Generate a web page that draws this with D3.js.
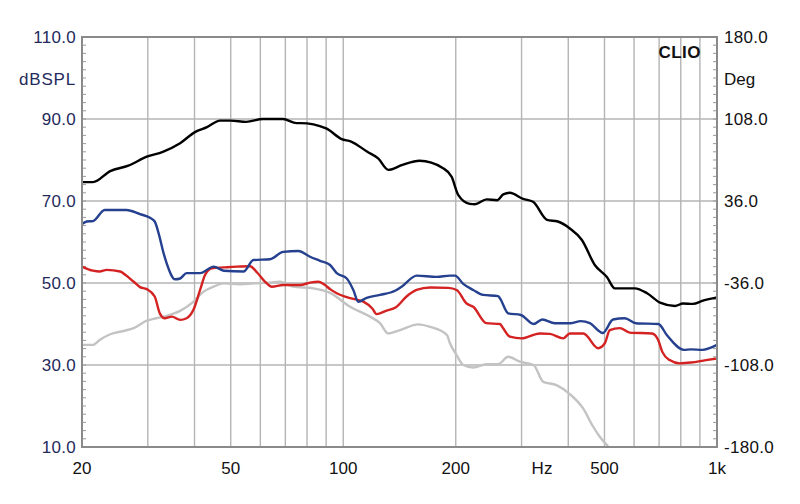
<!DOCTYPE html>
<html><head><meta charset="utf-8">
<script src="https://cdn.jsdelivr.net/npm/d3@7"></script>
<style>
html,body{margin:0;padding:0;background:#fff;}
svg{display:block;}
</style></head>
<body>
<svg id="chart" width="800" height="504"></svg>
<script>
// ---- Data (frequency Hz, level dBSPL) ----
const blackFreq = [20,21.4,23.8,26.6,29.8,32.9,36.6,40.1,43.2,46.8,50,55,61,69,75,77,90,99,105,116,124,132,144,160,185,195,203,218,225,242,258,268,279,303,322,351,375,404,435,471,508,533,603,650,704,772,811,862,917,1000];
const blackDb   = [74.6,74.6,77.3,78.6,80.8,82.0,84.1,86.8,88.0,89.6,89.6,89.3,90.0,90.0,89.0,89.0,87.7,85.1,84.5,82.0,80.4,77.6,78.8,79.8,78.0,75.9,71.5,69.3,69.2,70.4,70.2,71.6,72.0,70.5,69.8,65.4,65.0,63.3,60.5,54.4,51.4,48.7,48.7,47.5,45.2,44.4,45.0,44.9,45.7,46.5];

const blueFreq = [20,20.6,21.4,23.0,26.3,28.6,30.4,31.3,32.3,32.9,33.7,35.5,36.6,38.1,41.4,45.0,47.9,54.1,57.5,63.7,69.1,75.8,81.5,86.7,92.2,96.1,102.2,106.4,109.7,115.5,125.4,137.6,143.3,157.3,177.8,193,199,209.4,222.7,236.6,259.6,262.5,276.3,298.8,323,341,368,406.5,432,456.8,495,527,566.6,607,697,734,816,852,914,1000];
const blueDb   = [64.4,65.0,65.1,67.8,67.8,66.8,65.9,65.0,61.0,58.0,54.8,50.9,51.1,52.4,52.4,54.0,53.0,52.8,55.6,55.8,57.6,57.8,56.4,55.4,54.4,52.4,51.1,48.3,45.4,46.4,47.1,48.1,49.1,51.8,51.5,51.8,51.8,49.8,48.3,47.1,46.8,46.3,42.6,42.2,40.0,41.1,40.2,40.2,40.7,40.2,37.8,41.1,41.4,40.2,40.0,37.3,33.7,33.8,33.7,34.9];

const redFreq = [20,21.4,22.3,23.3,25.3,26.1,27.5,28.6,29.8,31.3,32.3,33.3,34.8,36.6,38.1,39.7,41.4,42.7,44.5,47.9,51.9,56.3,58.9,61.8,64.4,69.1,76.6,81.5,85.8,89.4,92.2,96.1,104.3,113.5,119.6,122.8,130.1,138.4,147.7,157.1,170.7,191,201.1,213.9,222.7,241.5,262.5,267.6,279.2,300,335.8,357,387.8,403.9,439,481,501,516.6,549.4,584,670,696,714,747,795,852,934,1000];
const redDb   = [54.0,53.0,52.8,53.2,52.8,52.0,50.3,49.0,48.5,46.7,42.6,41.4,41.8,41.0,41.4,43.4,48.3,52.0,53.6,53.8,54.0,54.1,52.5,50.3,49.1,49.5,49.5,50.1,50.3,49.5,48.5,47.5,46.3,45.4,43.8,42.4,43.2,44.1,46.7,48.3,48.9,48.8,48.3,45.0,44.2,40.2,40.0,39.0,36.9,36.5,37.7,37.6,36.5,37.7,37.7,34.1,35.3,38.5,39.0,37.9,37.7,36.1,33.2,31.2,30.4,30.6,31.2,31.6];

const grayFreq = [20,21.4,22.3,23.8,25.8,27.5,29.8,31.6,33.7,36.6,39.7,42.3,45.0,47.9,52.9,57.5,63.7,67.7,73.4,83.2,92.2,104.3,117.9,125.4,131.9,141.9,158.8,170.7,189.5,193,201.1,209.4,222.7,241.5,259.6,276.3,296.9,323,343,372,403.9,438.4,466,485.8,511];
const grayDb   = [34.9,34.9,36.1,37.5,38.3,39.0,40.8,41.4,42.0,43.2,45.4,47.9,49.1,49.9,49.7,49.9,50.1,50.3,49.1,48.7,47.6,44.2,41.8,40.2,37.7,38.5,39.9,39.3,37.3,35.3,32.4,30.0,29.4,30.2,30.2,32.0,30.8,30.0,25.9,25.1,22.9,19.4,15.0,12.5,10.2];

const xGridFreqs = [30,40,50,60,70,80,90,100,200,300,400,500,600,700,800,900];
const xTickValues = [20,50,100,200,500,1000];
const xTickLabels = ["20","50","100","200","500","1k"];
const yTickValues = [10,30,50,70,90,110];
const yTickLabels = ["10.0","30.0","50.0","70.0","90.0","110.0"];
const rTickLabels = ["-180.0","-108.0","-36.0","36.0","108.0","180.0"];

// ---- Layout ----
const L = 82, R = 717, T = 37, B = 447;
const svg = d3.select("#chart");
const x = d3.scaleLog().domain([20,1000]).range([L,R]);
const y = d3.scaleLinear().domain([10,110]).range([B,T]);
const font = "'Liberation Sans', Arial, sans-serif";
const navy = "#252a5c";

svg.append("rect").attr("width",800).attr("height",504).attr("fill","#fff");

// gridlines
const g = svg.append("g");
g.selectAll(".vg").data(xGridFreqs).join("line")
  .attr("x1",d=>x(d)).attr("x2",d=>x(d)).attr("y1",T).attr("y2",B)
  .attr("stroke","#b4b4b4").attr("stroke-width",1.4);
g.selectAll(".hg").data([30,50,70,90]).join("line")
  .attr("x1",L).attr("x2",R).attr("y1",d=>y(d)).attr("y2",d=>y(d))
  .attr("stroke","#b4b4b4").attr("stroke-width",1.4);

// minor ticks inside left and right
const minor = d3.range(10,110.01,2);
g.selectAll(".lt").data(minor).join("line")
  .attr("x1",L).attr("x2",L+4).attr("y1",d=>y(d)).attr("y2",d=>y(d))
  .attr("stroke","#999").attr("stroke-width",1);
g.selectAll(".rt").data(minor).join("line")
  .attr("x1",R-4).attr("x2",R).attr("y1",d=>y(d)).attr("y2",d=>y(d))
  .attr("stroke","#999").attr("stroke-width",1);

// curves
svg.append("clipPath").attr("id","clip").append("rect")
  .attr("x",L).attr("y",T).attr("width",R-L).attr("height",B-T);
const line = d3.line().x(d=>x(d[0])).y(d=>y(d[1])).curve(d3.curveMonotoneX);
const series = [
  {f:grayFreq, v:grayDb, c:"#c3c3c3"},
  {f:redFreq, v:redDb, c:"#d42222"},
  {f:blueFreq, v:blueDb, c:"#25408f"},
  {f:blackFreq, v:blackDb, c:"#000000"}
];
const cg = svg.append("g").attr("clip-path","url(#clip)");
series.forEach(s=>{
  cg.append("path").datum(s.f.map((f,i)=>[f,s.v[i]]))
    .attr("d",line).attr("fill","none").attr("stroke",s.c)
    .attr("stroke-width",2.4).attr("stroke-linejoin","round");
});

// frame
svg.append("rect").attr("x",L).attr("y",T).attr("width",R-L).attr("height",B-T)
  .attr("fill","none").attr("stroke","#8a8a8a").attr("stroke-width",2);

// left labels
svg.selectAll(".yl").data(yTickValues).join("text")
  .attr("x",76).attr("y",d=>y(d)).attr("dy","0.36em").attr("text-anchor","end")
  .attr("font-family",font).attr("font-size",17).attr("fill",navy)
  .attr("letter-spacing",0.3)
  .text((d,i)=>yTickLabels[i]);
svg.append("text").attr("x",76).attr("y",79).attr("dy","0.36em").attr("text-anchor","end")
  .attr("font-family",font).attr("font-size",17).attr("fill",navy).attr("letter-spacing",0.8).text("dBSPL");

// right labels
svg.selectAll(".rl").data(yTickValues).join("text")
  .attr("x",724).attr("y",d=>y(d)).attr("dy","0.36em").attr("text-anchor","start")
  .attr("font-family",font).attr("font-size",17).attr("fill","#111")
  .attr("letter-spacing",0.3)
  .text((d,i)=>rTickLabels[i]);
svg.append("text").attr("x",724).attr("y",79).attr("dy","0.36em")
  .attr("font-family",font).attr("font-size",17).attr("fill","#111").text("Deg");

// x labels
svg.selectAll(".xl").data(xTickValues).join("text")
  .attr("x",d=>x(d)).attr("y",468).attr("dy","0.36em").attr("text-anchor","middle")
  .attr("font-family",font).attr("font-size",17).attr("fill","#111")
  .text((d,i)=>xTickLabels[i]);
svg.append("text").attr("x",542).attr("y",468).attr("dy","0.36em").attr("text-anchor","middle")
  .attr("font-family",font).attr("font-size",17).attr("fill","#111").text("Hz");

// CLIO
svg.append("text").attr("x",701).attr("y",52).attr("dy","0.36em").attr("text-anchor","end")
  .attr("font-family",font).attr("font-size",17).attr("font-weight","bold").attr("fill","#111")
  .attr("letter-spacing",0.5).text("CLIO");
</script>
</body></html>
